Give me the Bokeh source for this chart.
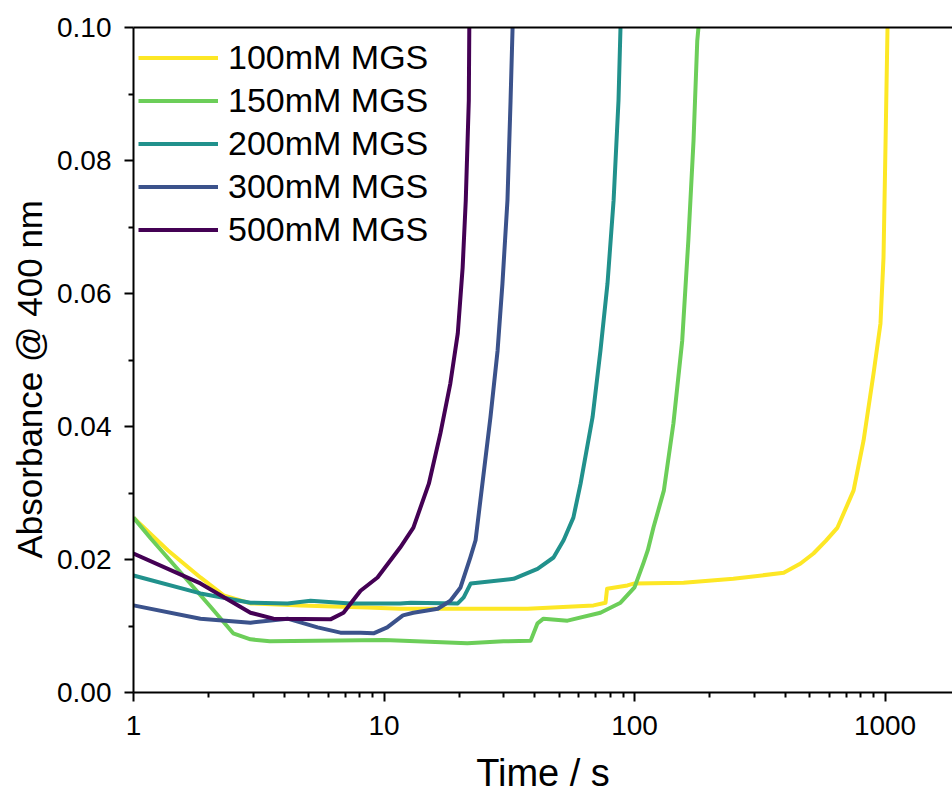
from bokeh.plotting import figure
from bokeh.models import FixedTicker, LogAxis, PrintfTickFormatter, Title
from bokeh.embed import file_html
from bokeh.resources import INLINE

# ---- data ----
t100 = [1.0, 1.37, 1.85, 2.29, 2.93, 4.64, 8.6, 11.6, 20.2, 37.4, 68.6, 76.6, 77.7, 93.7, 100, 157, 248, 394, 460, 518, 580, 646, 749, 821, 900, 959, 986, 1005, 1023]
a100 = [0.0263, 0.0214, 0.0173, 0.0146, 0.0134, 0.0131, 0.0128, 0.0126, 0.0126, 0.0126, 0.0131, 0.0135, 0.0156, 0.0161, 0.0164, 0.0165, 0.0171, 0.0180, 0.0194, 0.0209, 0.0228, 0.0248, 0.0304, 0.0379, 0.0480, 0.0555, 0.0654, 0.0830, 0.100]

t150 = [1.0, 1.17, 1.58, 2.03, 2.5, 2.93, 3.5, 10, 21.5, 30, 38.5, 41, 43.3, 54, 73.1, 87.9, 100, 108.6, 113, 119, 131, 143, 155, 164, 172, 178, 180]
a150 = [0.0263, 0.0232, 0.0176, 0.0129, 0.0089, 0.0080, 0.0077, 0.0079, 0.0074, 0.0077, 0.0078, 0.0104, 0.0111, 0.0108, 0.0120, 0.0135, 0.0158, 0.0195, 0.0214, 0.0248, 0.0304, 0.0405, 0.0529, 0.068, 0.083, 0.098, 0.100]

t200 = [1.0, 1.85, 2.93, 4.12, 5.09, 7.35, 11.6, 12.8, 19.7, 20.8, 22.2, 32.9, 41.0, 47.5, 52.1, 57.0, 60.9, 68.0, 73.1, 78.0, 82.5, 86.3, 87.9]
a200 = [0.0176, 0.0149, 0.0135, 0.0134, 0.0138, 0.0134, 0.0134, 0.0135, 0.0134, 0.0143, 0.0164, 0.0171, 0.0186, 0.0203, 0.0229, 0.0263, 0.0314, 0.0414, 0.0514, 0.0615, 0.074, 0.089, 0.100]

t300 = [1.0, 1.85, 2.93, 4.12, 5.43, 6.7, 8.06, 9.08, 10.3, 11.9, 13.1, 16.4, 18.4, 20.2, 22.1, 23.2, 24.7, 26.6, 28.4, 29.7, 31.1, 32.0, 32.6]
a300 = [0.0131, 0.0111, 0.0105, 0.0111, 0.0098, 0.0090, 0.0090, 0.0089, 0.0098, 0.0116, 0.0120, 0.0126, 0.0138, 0.0158, 0.0203, 0.0229, 0.0314, 0.0414, 0.0514, 0.0615, 0.074, 0.089, 0.100]

t500 = [1.0, 1.85, 2.93, 3.62, 6.11, 6.89, 8.06, 9.42, 11.6, 13.1, 15.1, 16.8, 18.4, 19.7, 20.6, 21.2, 21.8, 21.9]
a500 = [0.0209, 0.0164, 0.0120, 0.0111, 0.0110, 0.0120, 0.0153, 0.0173, 0.0218, 0.0248, 0.0314, 0.0390, 0.0465, 0.0540, 0.0639, 0.074, 0.089, 0.100]

series_labels = ["100mM MGS", "150mM MGS", "200mM MGS", "300mM MGS", "500mM MGS"]
colors = ["#FDE725", "#6CCE59", "#21918C", "#3B528B", "#440154"]

x_major = [1, 10, 100, 1000]
x_minor = [2, 3, 4, 5, 6, 7, 8, 9, 20, 30, 40, 50, 60, 70, 80, 90,
           200, 300, 400, 500, 600, 700, 800, 900]
y_major = [0.0, 0.02, 0.04, 0.06, 0.08, 0.10]
y_minor = [0.01, 0.03, 0.05, 0.07, 0.09]

FONT = "Liberation Sans"

p = figure(width=952, height=798, x_axis_type="log", x_range=(1, 1859), y_range=(0, 0.1),
           output_backend="svg", toolbar_location=None,
           min_border_left=133, min_border_right=0, min_border_top=27, min_border_bottom=106)

p.xgrid.visible = False
p.ygrid.visible = False
p.outline_line_color = None
p.background_fill_color = "white"
p.border_fill_color = "white"

for t, a, lab, c in zip([t100, t150, t200, t300, t500], [a100, a150, a200, a300, a500], series_labels, colors):
    p.line(t, a, line_color=c, line_width=4, legend_label=lab, line_join="round")

for ax in (p.xaxis[0], p.yaxis[0]):
    ax.axis_line_width = 2
    ax.major_tick_line_width = 2
    ax.minor_tick_line_width = 2
    ax.major_tick_in = 0
    ax.major_tick_out = 9
    ax.minor_tick_in = 0
    ax.minor_tick_out = 5
    ax.major_label_text_font = FONT
    ax.major_label_text_font_size = "28px"
    ax.major_label_text_color = "black"
    ax.axis_label_text_font = FONT
    ax.axis_label_text_font_size = "38px"
    ax.axis_label_text_font_style = "normal"
    ax.axis_label_text_color = "black"

p.xaxis.ticker = FixedTicker(ticks=x_major, minor_ticks=x_minor)
p.xaxis.formatter = PrintfTickFormatter(format="%d")
p.xaxis.major_label_standoff = 14
p.xaxis.axis_label = "Time / s"
p.xaxis.axis_label_standoff = 14

p.yaxis.ticker = FixedTicker(ticks=y_major, minor_ticks=y_minor)
p.yaxis.formatter = PrintfTickFormatter(format="%.2f")
p.yaxis.major_label_standoff = 13

ylab = Title(text="Absorbance @ 400 nm", align="left", offset=134, standoff=12,
             text_font=FONT, text_font_size="35px", text_font_style="normal",
             text_color="black")
p.add_layout(ylab, "left")

top = LogAxis(ticker=FixedTicker(ticks=[]), axis_line_width=2,
              major_label_text_font_size="0px", major_tick_line_color=None,
              minor_tick_line_color=None)
p.add_layout(top, "above")

lg = p.legend[0]
lg.location = (5, 441)
lg.margin = 0
lg.padding = 0
lg.border_line_color = None
lg.background_fill_alpha = 0
lg.glyph_width = 80
lg.glyph_height = 43
lg.label_height = 43
lg.spacing = 0
lg.label_standoff = 10
lg.label_text_font = FONT
lg.label_text_font_size = "34px"
lg.label_text_color = "black"

open("out.html", "w").write(file_html(p, INLINE))
